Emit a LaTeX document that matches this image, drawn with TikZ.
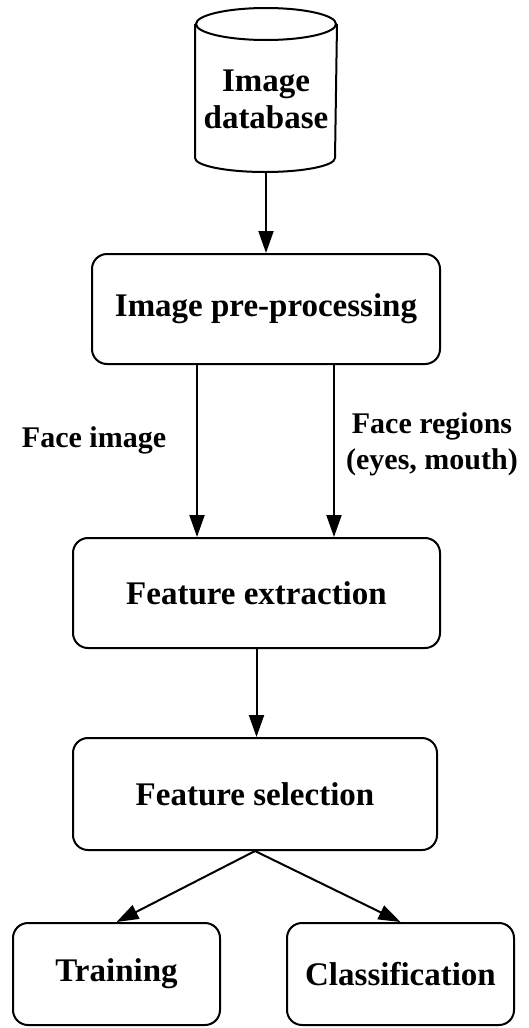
\documentclass[tikz,border=0pt]{standalone}
\usepackage{fontspec}
\setmainfont{Liberation Serif}
\usetikzlibrary{arrows.meta}
\begin{document}
\begin{tikzpicture}[x=1pt,y=-1pt,
  line width=2pt,
  stage/.style={draw, rounded corners=15pt, inner sep=0pt,
    font=\fontsize{33}{37}\selectfont\bfseries},
  lbl/.style={align=center, inner sep=0pt,
    font=\fontsize{30}{36}\selectfont\bfseries},
  arr/.style={-{Triangle[length=22pt,width=15pt]}}]
\useasboundingbox (0,0) rectangle (528,1028);

% image database (cylinder): the frame node spans the whole drum
\node[inner sep=0pt, minimum width=140pt, minimum height=162pt] (db) at (266,90) {};
\draw[fill=white] ([yshift=-16pt]db.north west) -- ([yshift=14pt]db.south west)
  arc[start angle=180, end angle=360, x radius=70pt, y radius=14pt]
  -- ([yshift=-16pt]db.north east);
\draw ([yshift=-16pt]db.north) ellipse[x radius=70pt, y radius=16pt];
\node[align=center, inner sep=0pt, font=\fontsize{33}{37}\selectfont\bfseries]
  (dbtext) at (266,99) {Image\\database};

% processing stages
\node[stage, minimum width=348pt, minimum height=110pt] (pre) at (266,309) {Image pre-processing};
\node[stage, minimum width=367pt, minimum height=110pt] (ext) at (256.5,593) {Feature extraction};
\node[stage, minimum width=364pt, minimum height=112pt] (sel) at (255,794) {Feature selection};
\node[stage, minimum width=207pt, minimum height=102pt] (train) at (116.5,974) {Training};
\node[stage, minimum width=227pt, minimum height=102pt] (cls) at (400.5,974) {Classification};

% branch positions between pre-processing and extraction
\coordinate (lx) at (197,0);
\coordinate (rx) at (334,0);

\draw[arr] (db.south) -- (pre.north);
\draw[arr] (pre.south -| lx) -- (ext.north -| lx);
\draw[arr] (pre.south -| rx) -- (ext.north -| rx);
\draw[arr] (ext.south) -- (ext.south |- sel.north);
\draw[arr] (sel.south) -- (train.north);
\draw[arr] (sel.south) -- (cls.north);

\node[lbl] (lface) at (94,440) {Face image};
\node[lbl] (lreg) at (432,444) {Face regions\\(eyes, mouth)};
\end{tikzpicture}
\end{document}
